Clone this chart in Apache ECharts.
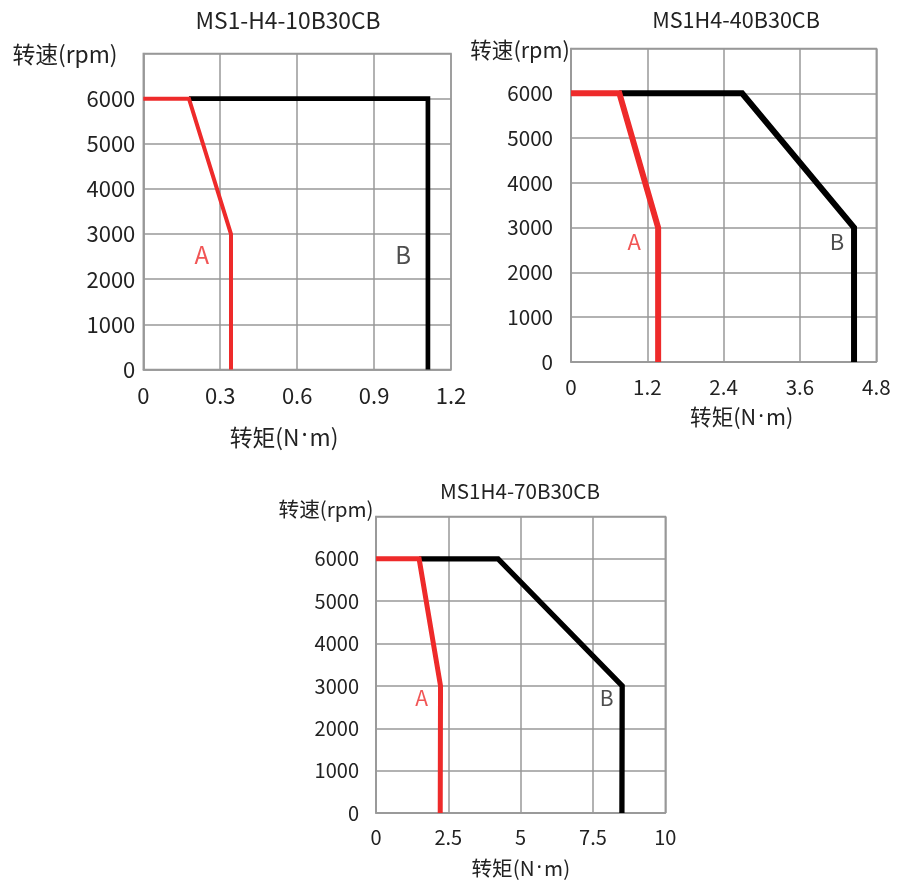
<!DOCTYPE html>
<html><head><meta charset="utf-8">
<script src="https://cdn.jsdelivr.net/npm/echarts@6/dist/echarts.min.js"></script>
<style>html,body{margin:0;padding:0;background:#fff}#c{width:898px;height:884px}</style>
</head><body><div id="c"></div>
<script>
// ---- data ----
const titles = ['MS1-H4-10B30CB', 'MS1H4-40B30CB', 'MS1H4-70B30CB'];
const yName = '转速(rpm)';
const xName = '转矩(N·m)';
const yTicks = [0, 1000, 2000, 3000, 4000, 5000, 6000];
const xTicks1 = [0, 0.3, 0.6, 0.9, 1.2];
const xTicks2 = [0, 1.2, 2.4, 3.6, 4.8];
const xTicks3 = [0, 2.5, 5, 7.5, 10];
// curves: [torque, speed]
const curveA1 = [[0, 6000], [0.178, 6000], [0.342, 3000], [0.342, 0]];
const curveB1 = [[0.178, 6000], [1.11, 6000], [1.11, 0]];
const curveA2 = [[0, 6000], [0.76, 6000], [1.37, 3000], [1.37, 0]];
const curveB2 = [[0.76, 6000], [2.69, 6000], [4.45, 3000], [4.45, 0]];
const curveA3 = [[0, 6000], [1.49, 6000], [2.23, 3000], [2.22, 0]];
const curveB3 = [[1.49, 6000], [4.22, 6000], [8.51, 3000], [8.5, 0]];
// label anchor points for "A" / "B"
const labelA1 = [0.228, 2550], labelB1 = [1.013, 2550];
const labelA2 = [0.995, 2690], labelB2 = [4.18, 2690];
const labelA3 = [1.577, 2726], labelB3 = [7.97, 2726];

// ---- layout / style ----
const FONT = '"Noto Sans CJK SC", "Noto Sans", sans-serif';
const LFONT = '"Noto Sans", "Noto Sans CJK SC", sans-serif';
const RED = '#ee2a2a', BLACK = '#000', GRID = '#999', TXT = '#222';
const panels = [
  {grid: {left: 143.3, top: 53.5, width: 307.7, height: 316}, xTicks: xTicks1, A: curveA1, B: curveB1, la: labelA1, lb: labelB1,
   wA: 4, wB: 4.7, fs: 22, ft: 22.8, fl: 24, title: [288, 20], yn: [65, 54], xn: [284, 437], xm: 15, ym: 8},
  {grid: {left: 571, top: 48.5, width: 305.3, height: 313.5}, xTicks: xTicks2, A: curveA2, B: curveB2, la: labelA2, lb: labelB2,
   wA: 6, wB: 6, fs: 20.6, ft: 21.6, fl: 22, title: [736, 20], yn: [520, 50], xn: [741.7, 416.7], xm: 15, ym: 18},
  {grid: {left: 376, top: 516.5, width: 289.3, height: 296.5}, xTicks: xTicks3, A: curveA3, B: curveB3, la: labelA3, lb: labelB3,
   wA: 5, wB: 5.3, fs: 20, ft: 20.6, fl: 21, title: [520, 491], yn: [326, 509], xn: [520.8, 868], xm: 14, ym: 17}
];

const option = {animation: false, grid: [], xAxis: [], yAxis: [], series: [], graphic: []};
panels.forEach((p, i) => {
  option.grid.push(Object.assign({show: true, borderColor: GRID, borderWidth: 1.5, backgroundColor: 'transparent'}, p.grid));
  const xt = p.xTicks;
  option.xAxis.push({
    type: 'value', gridIndex: i, min: xt[0], max: xt[xt.length - 1], interval: xt[1] - xt[0],
    axisLine: {show: true, lineStyle: {color: GRID, width: 1.5}}, axisTick: {show: false},
    splitLine: {show: true, lineStyle: {color: GRID, width: 1.5}},
    axisLabel: {color: TXT, fontSize: p.fs, fontFamily: FONT, margin: p.xm,
      formatter: v => { const k = xt.findIndex(t => Math.abs(t - v) < 1e-9); return k >= 0 ? String(xt[k]) : ''; }}
  });
  option.yAxis.push({
    type: 'value', gridIndex: i, min: 0, max: yTicks[yTicks.length - 1] + (yTicks[1] - yTicks[0]), interval: yTicks[1] - yTicks[0],
    axisLine: {show: true, lineStyle: {color: GRID, width: 1.5}}, axisTick: {show: false},
    splitLine: {show: true, lineStyle: {color: GRID, width: 1.5}},
    axisLabel: {color: TXT, fontSize: p.fs, fontFamily: FONT, margin: p.ym, showMaxLabel: false,
      formatter: v => yTicks.indexOf(v) >= 0 ? String(v) : ''}
  });
  option.series.push({
    type: 'line', xAxisIndex: i, yAxisIndex: i, data: p.B, symbol: 'none', z: 3,
    lineStyle: {color: BLACK, width: p.wB, join: 'miter', cap: 'butt'}
  });
  option.series.push({
    type: 'line', xAxisIndex: i, yAxisIndex: i, data: p.A, symbol: 'none', z: 4,
    lineStyle: {color: RED, width: p.wA, join: 'miter', cap: 'butt'}
  });
  option.series.push({
    type: 'scatter', xAxisIndex: i, yAxisIndex: i, symbolSize: 0, z: 5,
    data: [{value: p.la, name: 'A', label: {color: RED}}, {value: p.lb, name: 'B', label: {color: TXT}}],
    label: {show: true, position: 'inside', formatter: '{b}', fontSize: p.fl, fontFamily: FONT}
  });
  const t = (txt, xy, fs) => ({type: 'text', x: xy[0], y: xy[1],
    style: {text: txt, fill: TXT, font: fs + 'px ' + FONT, textAlign: 'center', textVerticalAlign: 'middle'}});
  const parts = xName.split('·');
  const xn = {type: 'text', x: p.xn[0], y: p.xn[1], style: {
    text: '{c|' + parts[0] + '}{d|·}{c|' + parts[1] + '}', textAlign: 'center', textVerticalAlign: 'middle',
    rich: {c: {fill: TXT, fontSize: p.ft, fontFamily: FONT},
           d: {fill: TXT, fontSize: p.ft, fontFamily: LFONT, padding: [0, 2]}}}};
  option.graphic.push(t(titles[i], p.title, p.ft), t(yName, p.yn, p.ft), xn);
});

const chart = echarts.init(document.getElementById('c'), null, {renderer: 'canvas'});
chart.setOption(option);
</script></body></html>
